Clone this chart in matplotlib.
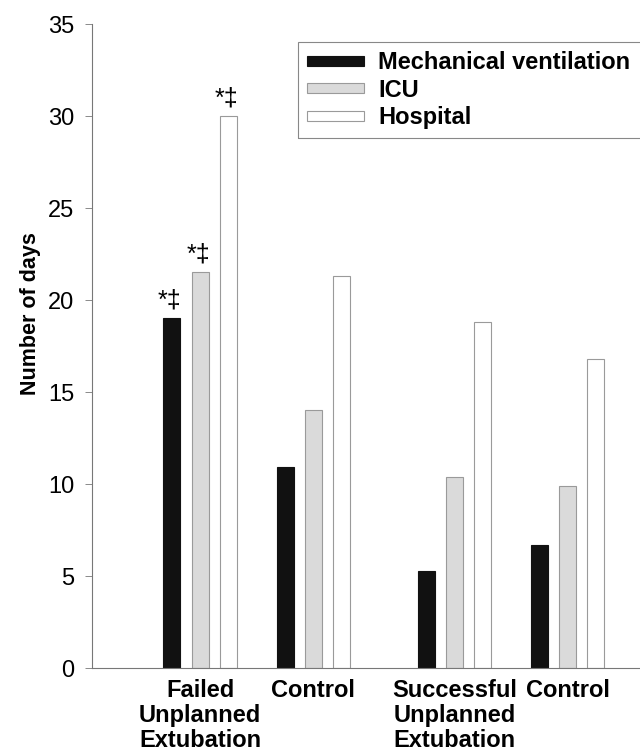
import matplotlib.pyplot as plt
from matplotlib.patches import Rectangle
import numpy as np

plt.rcParams['font.family'] = ['Liberation Sans', 'DejaVu Sans']

groups = ['Failed\nUnplanned\nExtubation', 'Control', 'Successful\nUnplanned\nExtubation', 'Control']
group_pos = [0, 1, 2.25, 3.25]
series = ['Mechanical ventilation', 'ICU', 'Hospital']
mech = [19.0, 10.9, 5.3, 6.7]
icu = [21.5, 14.0, 10.4, 9.9]
hosp = [30.0, 21.3, 18.8, 16.8]
marks = ['*\u2021', '*\u2021', '*\u2021']  # over the failed-extubation bars

fig = plt.figure(figsize=(6.4, 7.55), dpi=100)
ax = fig.add_axes([0.144, 0.1152, 0.856, 0.853])

x = np.array(group_pos)
w = 0.15
off = 0.25
b1 = ax.bar(x - off, mech, w, color='#111111', edgecolor='#111111', lw=0.8, label=series[0])
b2 = ax.bar(x, icu, w, color='#dadada', edgecolor='#9a9a9a', lw=0.8, label=series[1])
b3 = ax.bar(x + off, hosp, w, color='white', edgecolor='#9a9a9a', lw=0.8, label=series[2])

for bars, m in zip([b1, b2, b3], marks):
    r = bars[0]
    ax.text(r.get_x() + r.get_width() / 2 - 0.02, r.get_height() + 0.3, m,
            ha='center', va='bottom', fontsize=18)

ax.set_ylim(0, 35)
ax.set_xlim(-0.956, 3.89)
ax.set_yticks(range(0, 36, 5))
ax.tick_params(axis='y', labelsize=17, length=5, width=0.6, color='#777777', pad=8)
ax.set_xticks(group_pos)
ax.set_xticklabels(groups, fontsize=17, fontweight='bold', linespacing=1.1)
ax.tick_params(axis='x', length=0, pad=8)
ax.set_ylabel('Number of days', fontsize=15.5, fontweight='bold')
ax.yaxis.set_label_coords(-0.093, 0.55)

for s in ['top', 'right']:
    ax.spines[s].set_visible(False)
for s in ['left', 'bottom']:
    ax.spines[s].set_color('#777777')
    ax.spines[s].set_linewidth(0.8)

leg = ax.legend(loc='upper left', bbox_to_anchor=(0.466, 0.944), bbox_transform=fig.transFigure,
                prop={'weight': 'bold', 'size': 17}, frameon=False,
                handlelength=2.4, handleheight=0.3, labelspacing=0.19, borderpad=0.38,
                borderaxespad=0, handletextpad=0.6)
# legend box runs off the right edge of the figure
fig.patches.append(Rectangle((298 / 640, 1 - 138 / 755), 0.6, 96 / 755, transform=fig.transFigure,
                             facecolor='none', edgecolor='#888888', lw=0.8))

fig.savefig('out.png', dpi=100)
